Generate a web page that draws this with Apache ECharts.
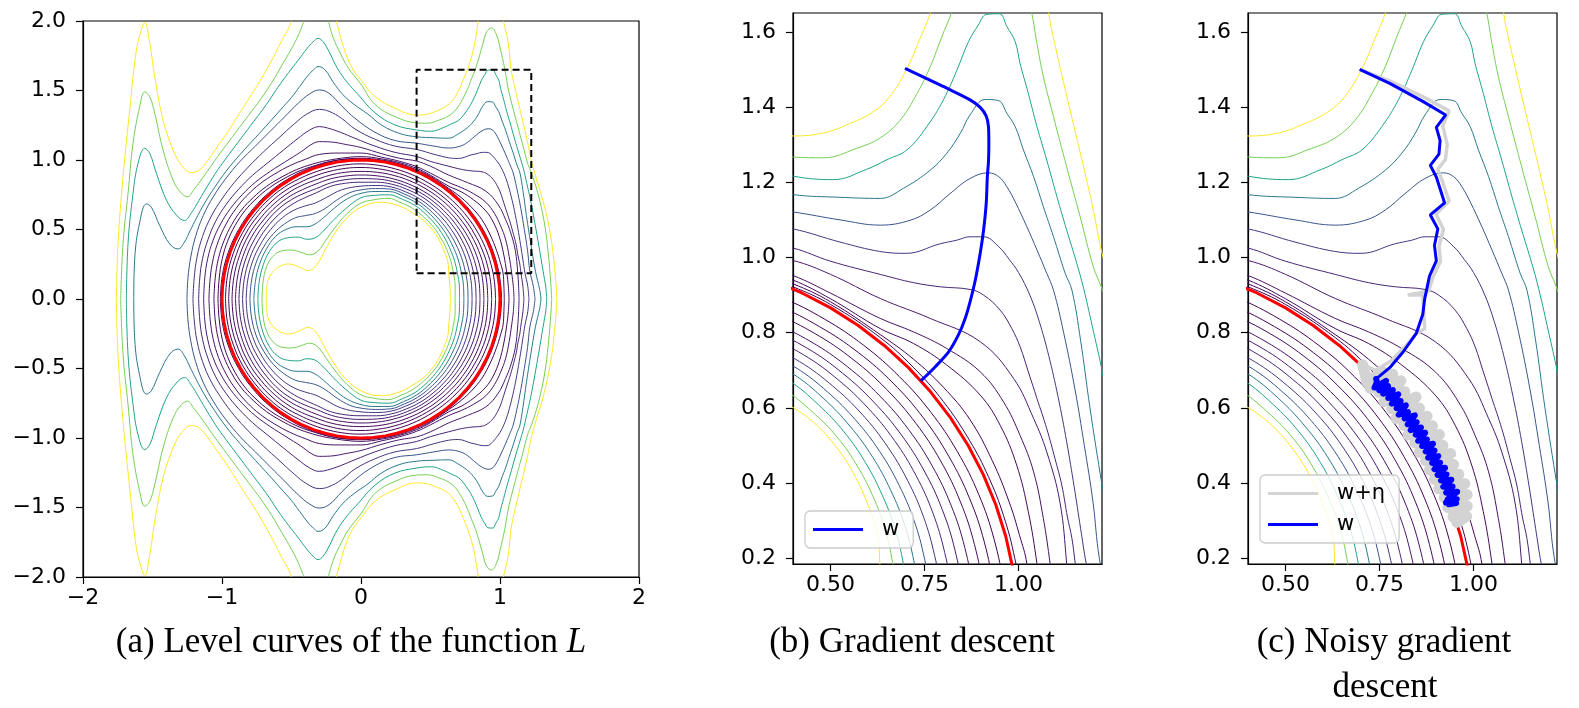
<!DOCTYPE html>
<html>
<head>
<meta charset="utf-8">
<script src="https://cdn.jsdelivr.net/npm/echarts@6/dist/echarts.min.js"></script>
<style>html,body{margin:0;padding:0;background:#fff}#chart{width:1579px;height:708px}</style>
</head>
<body>
<div id="chart"></div>
<script>
// level colours (viridis), darkest level first
const levelColors = ['#440154','#450559','#460b5e','#471365','#481c6e','#482677','#453781','#39568c','#2a788e','#20a486','#75d054','#fde725'];

// inner level curves, upper half (lower half is its mirror image)
const inner1 = [[-0.975,0],[-0.962,0.16],[-0.92,0.325],[-0.85,0.48],[-0.76,0.612],[-0.655,0.724],[-0.55,0.806],[-0.45,0.862],[-0.345,0.908],[-0.23,0.944],[-0.11,0.966],[0,0.972],[0.1266,0.9617],[0.2505,0.935],[0.3701,0.8934],[0.483,0.8366],[0.5881,0.7664],[0.6831,0.6831],[0.7668,0.5884],[0.8374,0.4835],[0.8939,0.3703],[0.935,0.2505],[0.9597,0.1263],[0.968,0]];
const inner2 = [[-0.952,0],[-0.939,0.158],[-0.897,0.32],[-0.83,0.47],[-0.74,0.6],[-0.64,0.705],[-0.54,0.783],[-0.44,0.838],[-0.34,0.882],[-0.23,0.917],[-0.11,0.94],[0,0.946],[0.1233,0.9369],[0.2443,0.9118],[0.3609,0.8712],[0.471,0.8158],[0.5735,0.7474],[0.6661,0.6661],[0.747,0.5732],[0.8149,0.4705],[0.8694,0.3601],[0.9089,0.2435],[0.9324,0.1227],[0.94,0]];
const inner3 = [[-0.928,0],[-0.915,0.155],[-0.874,0.312],[-0.808,0.46],[-0.72,0.585],[-0.625,0.685],[-0.525,0.762],[-0.43,0.815],[-0.335,0.853],[-0.225,0.89],[-0.11,0.912],[0,0.918],[0.1199,0.9111],[0.2381,0.8886],[0.3521,0.85],[0.46,0.7967],[0.5595,0.7291],[0.6491,0.6491],[0.7275,0.5583],[0.7933,0.458],[0.8454,0.3502],[0.8828,0.2365],[0.9051,0.1191],[0.912,0]];
const inner4 = [[-0.903,0],[-0.89,0.15],[-0.85,0.305],[-0.785,0.45],[-0.7,0.57],[-0.61,0.665],[-0.51,0.74],[-0.42,0.787],[-0.33,0.825],[-0.22,0.864],[-0.1,0.886],[0,0.892],[0.1166,0.8858],[0.2316,0.8645],[0.3427,0.8274],[0.448,0.7759],[0.5446,0.7097],[0.6314,0.6314],[0.7073,0.5427],[0.7707,0.445],[0.8209,0.34],[0.8568,0.2296],[0.8779,0.1156],[0.884,0]];
const inner5 = [[-0.878,0],[-0.866,0.145],[-0.825,0.3],[-0.76,0.44],[-0.68,0.555],[-0.59,0.65],[-0.5,0.715],[-0.41,0.76],[-0.32,0.795],[-0.21,0.838],[-0.1,0.86],[0,0.866],[0.1136,0.863],[0.2265,0.8452],[0.335,0.8089],[0.438,0.7586],[0.5315,0.6926],[0.6152,0.6152],[0.6883,0.5281],[0.7491,0.4325],[0.7969,0.3301],[0.8307,0.2226],[0.8506,0.112],[0.856,0]];
const inner6 = [[-0.852,0],[-0.84,0.142],[-0.8,0.293],[-0.74,0.42],[-0.66,0.535],[-0.57,0.627],[-0.48,0.69],[-0.4,0.73],[-0.32,0.765],[-0.22,0.81],[-0.11,0.833],[0,0.84],[0.1106,0.8402],[0.2213,0.8258],[0.3274,0.7904],[0.428,0.7413],[0.5187,0.676],[0.5996,0.5996],[0.6696,0.5138],[0.7274,0.42],[0.7724,0.3199],[0.8036,0.2153],[0.8229,0.1083],[0.828,0]];
const inner7 = [[-0.826,0],[-0.815,0.135],[-0.78,0.27],[-0.725,0.39],[-0.65,0.5],[-0.565,0.585],[-0.48,0.64],[-0.4,0.67],[-0.33,0.69],[-0.25,0.73],[-0.14,0.785],[0,0.812],[0.1075,0.8164],[0.2161,0.8065],[0.3195,0.7715],[0.4175,0.7231],[0.5053,0.6585],[0.5834,0.5834],[0.6502,0.4989],[0.7049,0.407],[0.7474,0.3096],[0.7766,0.2081],[0.7946,0.1046],[0.799,0]];
const inner8 = [[-0.799,0],[-0.788,0.13],[-0.755,0.26],[-0.7,0.375],[-0.63,0.47],[-0.55,0.54],[-0.47,0.585],[-0.4,0.6],[-0.33,0.615],[-0.26,0.65],[-0.17,0.715],[-0.08,0.765],[0,0.785],[0.1046,0.7946],[0.2117,0.7901],[0.3127,0.7548],[0.408,0.7067],[0.4925,0.6419],[0.5671,0.5671],[0.6308,0.484],[0.6824,0.394],[0.7225,0.2993],[0.7495,0.2008],[0.7664,0.1009],[0.77,0]];
const inner9 = [[-0.771,0],[-0.76,0.125],[-0.73,0.25],[-0.68,0.36],[-0.615,0.45],[-0.54,0.5],[-0.46,0.52],[-0.39,0.52],[-0.33,0.54],[-0.27,0.585],[-0.19,0.655],[-0.1,0.72],[0,0.76],[0.1018,0.7733],[0.207,0.7727],[0.3058,0.7382],[0.399,0.6911],[0.4803,0.626],[0.5515,0.5515],[0.6117,0.4694],[0.6599,0.381],[0.6971,0.2887],[0.7215,0.1933],[0.7371,0.097],[0.74,0]];
const inner10 = [[-0.742,0],[-0.733,0.12],[-0.705,0.24],[-0.66,0.34],[-0.6,0.41],[-0.53,0.44],[-0.45,0.445],[-0.39,0.43],[-0.33,0.44],[-0.27,0.49],[-0.2,0.565],[-0.11,0.65],[0,0.728],[0.0981,0.7455],[0.2008,0.7496],[0.2972,0.7174],[0.3885,0.6729],[0.4672,0.6089],[0.536,0.536],[0.5927,0.4548],[0.6374,0.368],[0.6717,0.2782],[0.6935,0.1858],[0.7074,0.0931],[0.709,0]];
const inner11 = [[-0.712,0],[-0.705,0.12],[-0.68,0.23],[-0.635,0.305],[-0.575,0.345],[-0.5,0.352],[-0.43,0.335],[-0.37,0.318],[-0.31,0.345],[-0.255,0.42],[-0.19,0.51],[-0.1,0.615],[0,0.69],[0.094,0.7138],[0.1941,0.7244],[0.287,0.6929],[0.375,0.6495],[0.452,0.5891],[0.5197,0.5197],[0.574,0.4405],[0.6166,0.356],[0.6477,0.2683],[0.6665,0.1786],[0.6776,0.0892],[0.677,0]];
const inner12 = [[-0.681,0],[-0.674,0.113],[-0.643,0.185],[-0.595,0.228],[-0.523,0.252],[-0.451,0.233],[-0.38,0.204],[-0.32,0.244],[-0.259,0.352],[-0.187,0.475],[-0.104,0.58],[0,0.66],[0.137,0.696],[0.28,0.668],[0.4,0.601],[0.463,0.554],[0.525,0.483],[0.569,0.411],[0.604,0.33],[0.626,0.259],[0.631,0.186],[0.64,0.09],[0.645,0]];

// outer level curves, upper half; pieces split where they leave the top of panel (a)
const outer1 = [[-1.012,0],[-0.998,0.168],[-0.955,0.335],[-0.88,0.5],[-0.775,0.65],[-0.65,0.775],[-0.5,0.878],[-0.35,0.948],[-0.2,0.992],[-0.1,1.005],[0,1.006],[0.15,0.995],[0.28,0.966],[0.4,0.922],[0.5,0.875],[0.632,0.787],[0.72,0.708],[0.8,0.617],[0.87,0.513],[0.92,0.417],[0.96,0.314],[0.99,0.2],[1.005,0.1],[1.012,0]];
const outer2 = [[-1.029,0],[-1.02,0.15],[-0.998,0.29],[-0.96,0.415],[-0.905,0.53],[-0.835,0.635],[-0.755,0.72],[-0.66,0.8],[-0.555,0.865],[-0.445,0.92],[-0.33,0.96],[-0.22,0.99],[-0.1,1.008],[0,1.012],[0.15,1.0],[0.28,0.972],[0.4,0.93],[0.5,0.882],[0.632,0.795],[0.72,0.73],[0.8,0.655],[0.87,0.57],[0.93,0.46],[0.975,0.35],[1.003,0.26],[1.022,0.186],[1.028,0.09],[1.031,0]];
const outer3 = [[-1.058,0],[-1.049,0.15],[-1.026,0.29],[-0.985,0.42],[-0.93,0.535],[-0.86,0.64],[-0.775,0.73],[-0.68,0.81],[-0.575,0.875],[-0.465,0.93],[-0.35,0.97],[-0.25,0.995],[-0.1,1.018],[0,1.024],[0.15,1.008],[0.28,0.98],[0.4,0.94],[0.5,0.89],[0.632,0.811],[0.721,0.771],[0.809,0.714],[0.898,0.634],[0.951,0.554],[0.995,0.448],[1.026,0.324],[1.049,0.186],[1.06,0.09],[1.065,0]];
const outer4 = [[-1.094,0],[-1.085,0.15],[-1.063,0.29],[-1.025,0.42],[-0.97,0.54],[-0.9,0.65],[-0.82,0.745],[-0.725,0.83],[-0.62,0.9],[-0.51,0.96],[-0.4,1.005],[-0.3,1.04],[-0.15,1.05],[0,1.05],[0.15,1.02],[0.28,0.99],[0.4,0.952],[0.5,0.905],[0.632,0.838],[0.721,0.802],[0.809,0.758],[0.898,0.696],[0.96,0.616],[1.004,0.527],[1.04,0.43],[1.066,0.306],[1.084,0.186],[1.096,0.09],[1.101,0]];
const outer5 = [[-1.132,0],[-1.124,0.15],[-1.103,0.29],[-1.065,0.42],[-1.01,0.54],[-0.94,0.65],[-0.855,0.75],[-0.76,0.84],[-0.65,0.92],[-0.54,0.99],[-0.43,1.06],[-0.36,1.11],[-0.3,1.132],[-0.22,1.13],[-0.1,1.11],[0,1.09],[0.15,1.045],[0.28,1.012],[0.4,0.992],[0.5,0.955],[0.632,0.891],[0.765,0.838],[0.898,0.776],[0.987,0.678],[1.04,0.572],[1.075,0.483],[1.11,0.35],[1.128,0.186],[1.134,0.09],[1.137,0]];
const outer6 = [[-1.168,0],[-1.16,0.15],[-1.14,0.29],[-1.1,0.43],[-1.045,0.56],[-0.97,0.68],[-0.88,0.79],[-0.78,0.89],[-0.67,0.98],[-0.56,1.07],[-0.46,1.15],[-0.37,1.215],[-0.3,1.24],[-0.24,1.23],[-0.15,1.2],[-0.043,1.156],[0.1,1.1],[0.245,1.055],[0.4,1.025],[0.5,0.99],[0.632,0.955],[0.721,0.933],[0.792,0.922],[0.871,0.915],[0.907,0.9],[0.951,0.86],[0.982,0.811],[1.004,0.763],[1.026,0.696],[1.049,0.625],[1.075,0.545],[1.097,0.465],[1.115,0.395],[1.13,0.31],[1.142,0.253],[1.151,0.186],[1.165,0.09],[1.172,0]];
const outer7 = [[-1.209,0],[-1.2,0.15],[-1.18,0.3],[-1.14,0.45],[-1.08,0.59],[-1.0,0.72],[-0.91,0.84],[-0.81,0.95],[-0.7,1.06],[-0.59,1.16],[-0.48,1.26],[-0.39,1.33],[-0.3,1.364],[-0.23,1.35],[-0.14,1.3],[-0.043,1.223],[0.1,1.15],[0.245,1.1],[0.4,1.076],[0.525,1.041],[0.631,1.016],[0.701,1.011],[0.79,1.036],[0.836,1.046],[0.871,1.055],[0.907,1.055],[0.947,1.029],[0.975,0.995],[1.0,0.96],[1.03,0.9],[1.055,0.83],[1.08,0.74],[1.105,0.63],[1.128,0.51],[1.148,0.39],[1.165,0.28],[1.18,0.186],[1.2,0.09],[1.208,0]];
const outer8 = [[-1.252,0],[-1.245,0.15],[-1.225,0.3],[-1.19,0.45],[-1.135,0.6],[-1.06,0.74],[-0.97,0.87],[-0.87,0.99],[-0.76,1.1],[-0.65,1.21],[-0.55,1.31],[-0.45,1.41],[-0.37,1.475],[-0.3,1.504],[-0.23,1.48],[-0.14,1.39],[-0.043,1.3],[0.1,1.2],[0.245,1.14],[0.4,1.121],[0.525,1.1],[0.632,1.086],[0.712,1.099],[0.765,1.126],[0.818,1.17],[0.871,1.21],[0.92,1.225],[0.947,1.215],[0.969,1.188],[0.991,1.148],[1.022,1.082],[1.049,1.02],[1.075,0.958],[1.093,0.913],[1.12,0.8],[1.15,0.65],[1.175,0.5],[1.198,0.35],[1.215,0.2],[1.24,0.09],[1.252,0]];
const outer9 = [[-1.635,0],[-1.628,0.288],[-1.592,0.552],[-1.544,0.684],[-1.508,0.66],[-1.448,0.528],[-1.376,0.396],[-1.316,0.36],[-1.27,0.41],[-1.23,0.49],[-1.185,0.58],[-1.125,0.69],[-1.055,0.8],[-0.97,0.92],[-0.87,1.04],[-0.76,1.16],[-0.66,1.27],[-0.58,1.36],[-0.5,1.45],[-0.44,1.53],[-0.38,1.61],[-0.34,1.65],[-0.309,1.672],[-0.26,1.65],[-0.2,1.56],[-0.13,1.47],[-0.05,1.4],[0.05,1.33],[0.15,1.25],[0.28,1.19],[0.401,1.167],[0.525,1.16],[0.632,1.157],[0.694,1.184],[0.765,1.232],[0.809,1.277],[0.845,1.33],[0.871,1.379],[0.911,1.42],[0.947,1.417],[0.969,1.383],[0.991,1.348],[1.013,1.286],[1.04,1.215],[1.066,1.135],[1.093,1.055],[1.124,0.958],[1.142,0.913],[1.165,0.78],[1.19,0.6],[1.222,0.395],[1.255,0.2],[1.285,0.07],[1.295,0]];
const outer10 = [[-1.688,0],[-1.676,0.4],[-1.64,0.76],[-1.604,0.976],[-1.556,1.084],[-1.52,1.048],[-1.472,0.904],[-1.4,0.712],[-1.328,0.604],[-1.27,0.565],[-1.22,0.62],[-1.165,0.71],[-1.1,0.82],[-1.03,0.93],[-0.95,1.04],[-0.86,1.16],[-0.77,1.28],[-0.68,1.4],[-0.6,1.52],[-0.52,1.63],[-0.45,1.72],[-0.39,1.8],[-0.345,1.85],[-0.309,1.875],[-0.273,1.851],[-0.225,1.77],[-0.17,1.66],[-0.1,1.56],[-0.02,1.47],[0.1,1.34],[0.245,1.252],[0.401,1.216],[0.507,1.207],[0.595,1.234],[0.65,1.26],[0.703,1.286],[0.756,1.348],[0.8,1.419],[0.836,1.498],[0.867,1.574],[0.893,1.618],[0.914,1.646],[0.949,1.648],[0.969,1.614],[0.991,1.574],[1.004,1.516],[1.026,1.436],[1.049,1.348],[1.075,1.259],[1.102,1.162],[1.128,1.073],[1.155,0.984],[1.173,0.918],[1.2,0.8],[1.222,0.7],[1.25,0.55],[1.28,0.38],[1.31,0.2],[1.33,0.08],[1.336,0]];
const outer11a = [[-1.729,0],[-1.712,0.4],[-1.676,0.76],[-1.64,1.12],[-1.592,1.384],[-1.556,1.49],[-1.52,1.456],[-1.484,1.336],[-1.424,1.072],[-1.352,0.856],[-1.3,0.77],[-1.25,0.735],[-1.2,0.79],[-1.14,0.87],[-1.07,0.97],[-0.99,1.08],[-0.9,1.2],[-0.81,1.32],[-0.72,1.44],[-0.64,1.56],[-0.57,1.68],[-0.5,1.8],[-0.45,1.9],[-0.41,2.0]];
const outer11b = [[-0.235,2.0],[-0.2,1.88],[-0.15,1.77],[-0.09,1.66],[0,1.545],[0.1,1.4],[0.245,1.312],[0.401,1.267],[0.481,1.265],[0.569,1.29],[0.632,1.318],[0.685,1.365],[0.73,1.436],[0.765,1.507],[0.796,1.587],[0.821,1.649],[0.844,1.72],[0.875,1.83],[0.904,1.923],[0.94,1.95],[0.975,1.9],[1.0,1.81],[1.035,1.651],[1.049,1.569],[1.066,1.481],[1.093,1.374],[1.128,1.241],[1.164,1.108],[1.199,0.975],[1.22,0.922],[1.252,0.83],[1.29,0.69],[1.324,0.518],[1.35,0.3],[1.365,0.12],[1.372,0]];
const outer12a = [[-1.76,0],[-1.748,0.4],[-1.712,0.88],[-1.664,1.36],[-1.616,1.79],[-1.58,1.935],[-1.556,1.99],[-1.52,1.84],[-1.484,1.6],[-1.424,1.288],[-1.352,1.072],[-1.29,0.96],[-1.22,0.91],[-1.16,0.93],[-1.1,1.0],[-1.03,1.1],[-0.96,1.2],[-0.89,1.31],[-0.82,1.42],[-0.75,1.53],[-0.68,1.65],[-0.62,1.76],[-0.57,1.86],[-0.52,1.95],[-0.5,2.0]];
const outer12b = [[-0.177,2.0],[-0.14,1.86],[-0.1,1.74],[-0.05,1.64],[0,1.575],[0.1,1.456],[0.245,1.372],[0.401,1.323],[0.481,1.331],[0.551,1.356],[0.613,1.387],[0.657,1.427],[0.701,1.498],[0.737,1.58],[0.765,1.649],[0.808,1.791],[0.844,2.0]];
const outer12c = [[1.024,2.0],[1.059,1.844],[1.08,1.651],[1.102,1.543],[1.137,1.392],[1.173,1.241],[1.199,1.126],[1.22,1.02],[1.26,0.87],[1.3,0.74],[1.34,0.58],[1.372,0.405],[1.395,0.2],[1.405,0.08],[1.408,0]];

const innerLevels = [inner1, inner2, inner3, inner4, inner5, inner6, inner7, inner8, inner9, inner10, inner11, inner12];
const outerLevels = [[outer1], [outer2], [outer3], [outer4], [outer5], [outer6], [outer7], [outer8], [outer9], [outer10], [outer11a, outer11b], [outer12a, outer12b, outer12c]];

// the red unit circle (upper half, every 5 degrees) and the zoom window of panel (a)
const circleUpper = [[1,0],[0.9962,0.0872],[0.9848,0.1736],[0.9659,0.2588],[0.9397,0.342],[0.9063,0.4226],[0.866,0.5],[0.8192,0.5736],[0.766,0.6428],[0.7071,0.7071],[0.6428,0.766],[0.5736,0.8192],[0.5,0.866],[0.4226,0.9063],[0.342,0.9397],[0.2588,0.9659],[0.1736,0.9848],[0.0872,0.9962],[0,1],[-0.0872,0.9962],[-0.1736,0.9848],[-0.2588,0.9659],[-0.342,0.9397],[-0.4226,0.9063],[-0.5,0.866],[-0.5736,0.8192],[-0.6428,0.766],[-0.7071,0.7071],[-0.766,0.6428],[-0.8192,0.5736],[-0.866,0.5],[-0.9063,0.4226],[-0.9397,0.342],[-0.9659,0.2588],[-0.9848,0.1736],[-0.9962,0.0872],[-1,0]];
const zoomBox = [[0.4,0.185],[1.225,0.185],[1.225,1.65],[0.4,1.65],[0.4,0.185]];

// (b) gradient descent path
const gdPath = [[0.698,1.503],[0.75,1.478],[0.809,1.45],[0.871,1.419],[0.898,1.399],[0.914,1.376],[0.92,1.348],[0.921,1.3],[0.92,1.255],[0.917,1.215],[0.914,1.144],[0.907,1.073],[0.898,1.011],[0.885,0.94],[0.871,0.882],[0.858,0.838],[0.84,0.794],[0.814,0.749],[0.778,0.709],[0.74,0.672]];

// (c) noisy gradient descent: w and w+eta
const noisyW = [[0.697,1.5],[0.777,1.463],[0.865,1.415],[0.926,1.379],[0.901,1.346],[0.911,1.311],[0.908,1.275],[0.885,1.245],[0.901,1.214],[0.923,1.145],[0.885,1.113],[0.905,1.076],[0.896,1.032],[0.901,0.991],[0.883,0.951],[0.87,0.89],[0.865,0.849],[0.848,0.799],[0.812,0.748],[0.777,0.707],[0.741,0.677]];
const noisyWCluster = [[0.741,0.677],[0.743,0.669],[0.7366,0.654],[0.7674,0.6719],[0.7494,0.6469],[0.7729,0.6578],[0.7599,0.6376],[0.7855,0.6475],[0.7732,0.6262],[0.7998,0.6362],[0.7825,0.6114],[0.8061,0.6185],[0.7954,0.5994],[0.82,0.6067],[0.8009,0.5819],[0.8255,0.5888],[0.8167,0.5719],[0.8439,0.58],[0.8249,0.5564],[0.8489,0.5618],[0.8328,0.5408],[0.8603,0.548],[0.8463,0.5288],[0.8714,0.534],[0.8529,0.5124],[0.8762,0.5161],[0.8634,0.4985],[0.8922,0.5047],[0.8729,0.4838],[0.8964,0.4867],[0.8794,0.4676],[0.9065,0.4719],[0.8901,0.4535],[0.911,0.4542],[0.8961,0.4371],[0.9243,0.4408],[0.9045,0.4218],[0.9282,0.423],[0.9135,0.4067],[0.9409,0.4091],[0.9196,0.3903],[0.9442,0.3911],[0.9272,0.3746],[0.9565,0.3768],[0.9317,0.3577],[0.9554,0.3572],[0.9338,0.3436],[0.9538,0.3471],[0.9267,0.3483],[0.941,0.3669]];
const noisyEta = [[0.697,1.5],[0.78,1.468],[0.87,1.425],[0.935,1.39],[0.918,1.35],[0.93,1.3],[0.925,1.26],[0.905,1.235],[0.918,1.2],[0.935,1.15],[0.9,1.115],[0.92,1.075],[0.908,1.03],[0.912,0.99],[0.893,0.95],[0.88,0.91],[0.825,0.9],[0.865,0.9],[0.87,0.81],[0.85,0.8],[0.82,0.765],[0.78,0.725],[0.74,0.7],[0.705,0.715]];
const noisyEtaCluster = [[0.705,0.715],[0.7167,0.6684],[0.7594,0.6959],[0.7246,0.6524],[0.7851,0.6897],[0.7479,0.641],[0.8067,0.6721],[0.7616,0.6167],[0.8173,0.6431],[0.7825,0.5983],[0.847,0.629],[0.7933,0.5721],[0.8561,0.5994],[0.8147,0.5537],[0.8765,0.578],[0.8257,0.528],[0.8907,0.5523],[0.8443,0.5073],[0.9092,0.5292],[0.8555,0.4821],[0.9184,0.5007],[0.8722,0.4599],[0.9391,0.4785],[0.8829,0.4344],[0.9467,0.4495],[0.8956,0.4101],[0.9608,0.4237],[0.9076,0.3852],[0.9768,0.3986],[0.9218,0.3613],[0.9829,0.3694],[0.9315,0.3353],[0.9833,0.3386],[0.9453,0.3107],[0.9818,0.3115],[0.9553,0.2957]];

// tick values and captions
const xTicksZoom = [0.5, 0.75, 1.0];
const yTicksZoom = [0.2, 0.4, 0.6, 0.8, 1.0, 1.2, 1.4, 1.6];
const captions = ['(a) Level curves of the function {i|L}', '(b) Gradient descent', '(c) Noisy gradient', 'descent'];

const FONT = 'DejaVu Sans';
const SERIF = 'Liberation Serif';

function fmt(d) {
  return function (v) { return (v < 0 ? '\u2212' : '') + Math.abs(v).toFixed(d); };
}

function makeAxis(gi, min, max, opt) {
  return {
    type: 'value', gridIndex: gi, min: min, max: max, interval: opt.interval,
    axisLine: { show: true, onZero: false, lineStyle: { color: '#000', width: 1.2 } },
    axisTick: { show: true, length: 7, lineStyle: { color: '#000', width: 1.2 }, customValues: opt.ticks },
    axisLabel: { color: '#000', fontFamily: FONT, fontSize: 22, margin: opt.margin, formatter: opt.fmt, customValues: opt.ticks },
    splitLine: { show: false }
  };
}

function mirror(pts) {
  return pts.map(function (p) { return [p[0], -p[1]]; });
}

const series = [];
function addLine(pts, gi, color, width, extra) {
  series.push(Object.assign({
    type: 'line', xAxisIndex: gi, yAxisIndex: gi, data: pts,
    symbol: 'none', showSymbol: false, smooth: 0.4, silent: true,
    lineStyle: { color: color, width: width }, itemStyle: { color: color }, z: 2
  }, extra || {}));
}

[0, 1, 2].forEach(function (gi) {
  for (let k = 0; k < 12; k++) {
    const c = levelColors[k];
    addLine(innerLevels[k], gi, c, 1);
    if (gi === 0) addLine(mirror(innerLevels[k]), gi, c, 1);
    outerLevels[k].forEach(function (piece) {
      addLine(piece, gi, c, 1);
      if (gi === 0) addLine(mirror(piece), gi, c, 1);
    });
  }
  addLine(circleUpper, gi, '#ff0000', 3, { smooth: false, z: 3 });
  if (gi === 0) addLine(mirror(circleUpper), gi, '#ff0000', 3, { smooth: false, z: 3 });
});

addLine(zoomBox, 0, '#000', 2, { smooth: false, z: 6, lineStyle: { color: '#000', width: 2, type: [7, 4] } });
addLine(gdPath, 1, '#0000ff', 3, { name: 'w', smooth: 0.3, z: 5 });
addLine(noisyEta, 2, '#d3d3d3', 3.5, { name: 'w+\u03b7', smooth: false, z: 4 });
addLine(noisyEtaCluster, 2, '#d3d3d3', 11, { smooth: false, z: 4, lineStyle: { color: '#d3d3d3', width: 11, join: 'round', cap: 'round' } });
addLine(noisyW, 2, '#0000ff', 3, { name: 'w', smooth: false, z: 5 });
addLine(noisyWCluster, 2, '#0000ff', 6, { smooth: false, z: 5, lineStyle: { color: '#0000ff', width: 6, join: 'round', cap: 'round' } });

const legendBase = {
  orient: 'vertical', icon: 'rect', itemWidth: 50, itemHeight: 3, itemGap: 10,
  backgroundColor: 'rgba(255,255,255,0.8)', borderColor: '#cccccc', borderWidth: 1.3, borderRadius: 5,
  selectedMode: false,
  textStyle: { fontFamily: FONT, fontSize: 21, color: '#000', padding: [0, 0, 0, 14] }
};

const chart = echarts.init(document.getElementById('chart'));
chart.setOption({
  animation: false,
  backgroundColor: '#fff',
  grid: [
    { left: 83, top: 21, width: 556, height: 556, show: true, borderColor: '#000', borderWidth: 1.2 },
    { left: 793, top: 13, width: 309, height: 551, show: true, borderColor: '#000', borderWidth: 1.2 },
    { left: 1248, top: 13, width: 309, height: 551, show: true, borderColor: '#000', borderWidth: 1.2 }
  ],
  xAxis: [
    makeAxis(0, -2, 2, { interval: 1, margin: 10, fmt: fmt(0) }),
    makeAxis(1, 0.4, 1.222, { ticks: xTicksZoom, margin: 10, fmt: fmt(2) }),
    makeAxis(2, 0.4, 1.222, { ticks: xTicksZoom, margin: 10, fmt: fmt(2) })
  ],
  yAxis: [
    makeAxis(0, -2, 2, { interval: 0.5, margin: 17, fmt: fmt(1) }),
    makeAxis(1, 0.185, 1.65, { ticks: yTicksZoom, margin: 17, fmt: fmt(1) }),
    makeAxis(2, 0.185, 1.65, { ticks: yTicksZoom, margin: 17, fmt: fmt(1) })
  ],
  legend: [
    Object.assign({}, legendBase, { data: ['w'], left: 805, top: 511, padding: [8, 14, 8, 8] }),
    Object.assign({}, legendBase, { data: ['w+\u03b7', 'w'], left: 1260, top: 475, padding: [8, 14, 8, 8] })
  ],
  graphic: [
    { type: 'text', x: 351, y: 643, style: { text: captions[0], fontFamily: SERIF, fontSize: 35, fill: '#000', align: 'center', verticalAlign: 'middle', rich: { i: { fontFamily: SERIF, fontSize: 35, fontStyle: 'italic' } } } },
    { type: 'text', x: 912, y: 643, style: { text: captions[1], fontFamily: SERIF, fontSize: 35, fill: '#000', align: 'center', verticalAlign: 'middle' } },
    { type: 'text', x: 1384, y: 643, style: { text: captions[2], fontFamily: SERIF, fontSize: 35, fill: '#000', align: 'center', verticalAlign: 'middle' } },
    { type: 'text', x: 1385, y: 688, style: { text: captions[3], fontFamily: SERIF, fontSize: 35, fill: '#000', align: 'center', verticalAlign: 'middle' } }
  ],
  series: series
});
</script>
</body>
</html>
